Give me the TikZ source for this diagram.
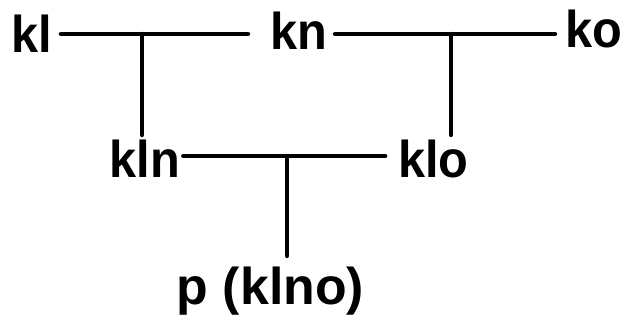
\documentclass[tikz,border=0pt]{standalone}
\usepackage{fontspec}
\setmainfont{Liberation Sans}
\begin{document}
\begin{tikzpicture}[x=1bp,y=-1bp,
  lbl/.style={inner sep=0pt,font=\fontsize{52}{60}\selectfont\bfseries,text height=38pt,text depth=0pt},
  narrow/.style={transform shape,xscale=0.94},
  conn/.style={line width=4.5bp,line cap=round}]
\useasboundingbox (0,0) rectangle (627,322);
\node[lbl,narrow] (kl) at (31.5,34) {kl};
\node[lbl,narrow] (kn) at (298.5,31) {kn};
\node[lbl,narrow] (ko) at (593.5,29) {ko};
\node[lbl,narrow] (kln) at (145,159) {kln};
\node[lbl,narrow] (klo) at (433.5,159) {klo};
\node[lbl] (p) at (270.5,286) {p (klno)};
\coordinate (j1) at (142,34);
\coordinate (j2) at (451,34);
\coordinate (j3) at (287,156);
\draw[conn,shorten <=9bp,shorten >=22bp] (kl.east |- j1) -- (kn.west |- j1);
\draw[conn,shorten <=8bp,shorten >=10bp] (kn.east |- j2) -- (ko.west |- j2);
\draw[conn,shorten <=3bp,shorten >=13bp] (kln.east |- j3) -- (klo.west |- j3);
\draw[conn,shorten >=5bp] (j1) -- (j1 |- kln.north);
\draw[conn,shorten >=5bp] (j2) -- (j2 |- klo.north);
\draw[conn,shorten >=11bp] (j3) -- (j3 |- p.north);
\end{tikzpicture}
\end{document}
